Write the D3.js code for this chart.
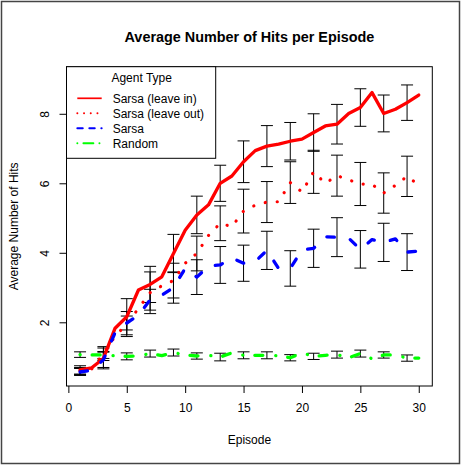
<!DOCTYPE html>
<html><head><meta charset="utf-8">
<script src="https://cdn.jsdelivr.net/npm/d3@7"></script>
<style>
body{margin:0;background:#fff;}
text{font-family:"Liberation Sans",Arial,Helvetica,sans-serif;fill:#000;}
</style></head>
<body>
<svg id="chart" width="461" height="468"></svg>
<script>
const episodes = [1,2,3,4,5,6,7,8,9,10,11,12,13,14,15,16,17,18,19,20,21,22,23,24,25,26,27,28,29,30];
const leaveIn  = [0.63,0.69,0.96,1.83,2.16,2.93,3.09,3.31,3.98,4.65,5.09,5.38,6.0,6.21,6.62,6.94,7.07,7.13,7.21,7.27,7.46,7.65,7.70,8.01,8.18,8.61,8.01,8.13,8.32,8.54];
const leaveOut = [0.6,0.66,1.1,1.6,1.95,2.4,2.85,3.05,3.2,3.7,3.98,4.5,4.85,4.75,5.2,5.37,5.46,5.47,6.02,5.75,6.33,6.0,6.22,6.1,5.98,5.97,5.72,5.94,6.2,5.95];
const sarsa    = [0.57,0.62,0.92,1.7,1.98,2.2,2.65,2.78,3.0,3.55,3.3,3.62,3.65,3.85,3.7,3.75,4.07,3.55,3.55,4.08,4.13,4.46,4.45,4.42,4.1,4.38,4.3,4.4,4.02,4.05];
const random   = [1.07,1.06,1.06,1.04,1.02,1.03,1.1,1.04,1.13,1.06,1.03,1.05,1.0,1.12,1.05,1.05,1.05,1.04,0.98,1.12,1.02,1.05,1.07,0.98,1.1,0.95,1.06,1.06,0.97,0.97];
// error bar half-widths at odd episodes 1,3,...,29
const barEpisodes = [1,3,5,7,9,11,13,15,17,19,21,23,25,27,29];
const errLeaveIn  = [0.12,0.3,0.52,0.52,0.55,0.54,0.52,0.6,0.59,0.54,0.54,0.57,0.54,0.53,0.51];
const errLeaveOut = [0.1,0.2,0.36,0.6,0.5,0.5,0.5,0.63,0.59,0.6,0.62,0.59,0.62,0.58,0.58];
const errSarsa    = [0.1,0.22,0.2,0.3,0.45,0.5,0.53,0.52,0.55,0.51,0.55,0.56,0.54,0.55,0.53];
const errRandom   = [0.08,0.1,0.1,0.1,0.1,0.09,0.11,0.1,0.1,0.09,0.09,0.1,0.1,0.09,0.09];
const seriesNames = ["Sarsa (leave in)","Sarsa (leave out)","Sarsa","Random"];
const xTicks = [0,5,10,15,20,25,30];
const yTicks = [2,4,6,8];

const svg = d3.select("#chart");
const L=66.5, R=432.3, T=66.7, B=386;
const x = d3.scaleLinear().domain([-0.16,31.16]).range([L,R]);
const y = d3.scaleLinear().domain([0.167,9.355]).range([B,T]);

// outer frame
svg.append("rect").attr("x",1.5).attr("y",1.5).attr("width",458).attr("height",462)
  .attr("fill","none").attr("stroke","#444").attr("stroke-width",1.5);

const series = [
  {name:seriesNames[0], vals:leaveIn, err:errLeaveIn, color:"#ff0000", dash:null, ldash:null, w:3.3},
  {name:seriesNames[1], vals:leaveOut, err:errLeaveOut, color:"#ff0000", dash:"0.1,11.9", ldash:"0.1,6.6", w:3.2},
  {name:seriesNames[2], vals:sarsa, err:errSarsa, color:"#0000ff", dash:"7.5,16.5", ldash:"5.5,6.5", w:3.3},
  {name:seriesNames[3], vals:random, err:errRandom, color:"#00ff00", dash:"0.1,12,8,12.9", ldash:"0.1,6,10,6", w:3.3}
];

// error bars
const eb = svg.append("g").attr("stroke","#000").attr("stroke-width",1).attr("fill","none");
series.forEach(s=>{
  barEpisodes.forEach((ep,i)=>{
    const v = s.vals[episodes.indexOf(ep)];
    const lo = y(v - s.err[i]), hi = y(v + s.err[i]), cx = x(ep);
    eb.append("line").attr("x1",cx).attr("x2",cx).attr("y1",lo).attr("y2",hi);
    eb.append("line").attr("x1",cx-6).attr("x2",cx+6).attr("y1",lo).attr("y2",lo);
    eb.append("line").attr("x1",cx-6).attr("x2",cx+6).attr("y1",hi).attr("y2",hi);
  });
});

// lines
const line = d3.line().x((d,i)=>x(episodes[i])).y(d=>y(d));
series.forEach(s=>{
  const p = svg.append("path").datum(s.vals).attr("d",line)
    .attr("fill","none").attr("stroke",s.color).attr("stroke-width",s.w)
    .attr("stroke-linecap","round").attr("stroke-linejoin","round");
  if(s.dash) p.attr("stroke-dasharray",s.dash);
});

// box
svg.append("rect").attr("x",L).attr("y",T).attr("width",R-L).attr("height",B-T)
  .attr("fill","none").attr("stroke","#000").attr("stroke-width",1);

// x axis
const xa = svg.append("g").attr("transform",`translate(0,${B})`)
  .call(d3.axisBottom(x).tickValues(xTicks).tickSize(7).tickPadding(10).tickFormat(d3.format("d")));
xa.select(".domain").remove();
xa.selectAll("text").attr("font-size",12).attr("font-family","Liberation Sans, Arial, sans-serif");

// y axis
const ya = svg.append("g").attr("transform",`translate(${L},0)`)
  .call(d3.axisLeft(y).tickValues(yTicks).tickSize(7).tickFormat(d3.format("d")));
ya.select(".domain").remove();
ya.selectAll("text").remove();
ya.selectAll(".tick").append("text")
  .attr("transform","translate(-22,0) rotate(-90)")
  .attr("text-anchor","middle").attr("dy","0.35em")
  .attr("font-size",12).attr("fill","#000").text(d=>d);

// titles
svg.append("text").attr("x",(L+R)/2).attr("y",37).attr("dy","0.35em")
  .attr("text-anchor","middle").attr("font-weight","bold").attr("font-size",14.4)
  .text("Average Number of Hits per Episode");
svg.append("text").attr("x",(L+R)/2).attr("y",440).attr("dy","0.35em")
  .attr("text-anchor","middle").attr("font-size",12).text("Episode");
svg.append("text").attr("transform",`translate(14,${(T+B)/2}) rotate(-90)`).attr("dy","0.35em")
  .attr("text-anchor","middle").attr("font-size",12).text("Average Number of Hits");

// legend
const lg = svg.append("g");
lg.append("rect").attr("x",L).attr("y",T).attr("width",149.2).attr("height",91.6)
  .attr("fill","#fff").attr("stroke","#000").attr("stroke-width",1);
lg.append("text").attr("x",141.7).attr("y",77.7).attr("dy","0.35em")
  .attr("text-anchor","middle").attr("font-size",12).text("Agent Type");
series.forEach((s,i)=>{
  const yy = 98.3 + i*15;
  const l = lg.append("line").attr("x1",77.3).attr("x2",101.7).attr("y1",yy).attr("y2",yy)
    .attr("stroke",s.color).attr("stroke-width",s.ldash ? 1.9 : 1.7).attr("stroke-linecap",s.ldash?"round":"butt");
  if(s.ldash) l.attr("stroke-dasharray",s.ldash);
  lg.append("text").attr("x",112.7).attr("y",yy).attr("dy","0.35em").attr("font-size",12).text(s.name);
});
</script>
</body></html>
